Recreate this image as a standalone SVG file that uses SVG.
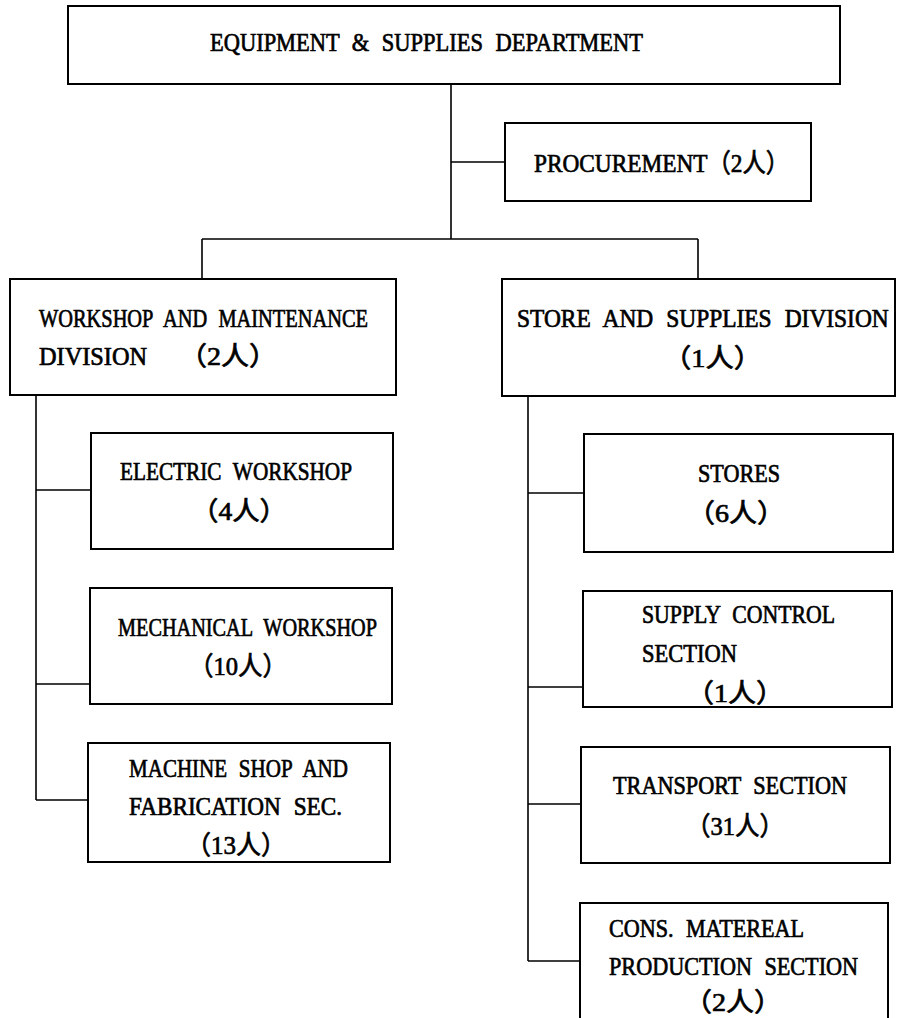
<svg xmlns="http://www.w3.org/2000/svg" width="898" height="1018" viewBox="0 0 898 1018">
<style>
.box{fill:#fff;stroke:#000;stroke-width:2}
.ln{fill:none;stroke:#000;stroke-width:1.6}
text{font-family:"Liberation Serif","Noto Sans CJK SC",serif;font-size:26px;font-weight:normal;fill:#000;stroke:#000;stroke-width:0.7;word-spacing:8px}
</style>
<rect width="898" height="1018" fill="#fff"/>
<g id="connectors">
<path class="ln" d="M451 84V239M451 162H505M202 239H698M202 239V279M698 239V279"/>
<path class="ln" d="M36 395V800M36 490H91M36 684H90M36 800H88"/>
<path class="ln" d="M528 396V961M528 493H584M528 687H583M528 804H581M528 961H580"/>
</g>
<g id="dept">
<rect class="box" x="68" y="6" width="772" height="78"/>
<text x="210" y="51" textLength="433" lengthAdjust="spacingAndGlyphs">EQUIPMENT &amp; SUPPLIES DEPARTMENT</text>
</g>
<g id="procurement">
<rect class="box" x="505" y="123" width="306" height="78"/>
<text x="534" y="172" textLength="255" lengthAdjust="spacingAndGlyphs">PROCUREMENT（2人）</text>
</g>
<g id="workshop-division">
<rect class="box" x="10" y="279" width="386" height="116"/>
<text x="39" y="327" textLength="329" lengthAdjust="spacingAndGlyphs">WORKSHOP AND MAINTENANCE</text>
<text x="39" y="365" textLength="108" lengthAdjust="spacingAndGlyphs">DIVISION</text>
<text x="179" y="365" textLength="98" lengthAdjust="spacingAndGlyphs">（2人）</text>
</g>
<g id="electric">
<rect class="box" x="91" y="433" width="302" height="116"/>
<text x="120" y="480" textLength="232" lengthAdjust="spacingAndGlyphs">ELECTRIC WORKSHOP</text>
<text x="191" y="520" textLength="96" lengthAdjust="spacingAndGlyphs">（4人）</text>
</g>
<g id="mechanical">
<rect class="box" x="90" y="588" width="302" height="116"/>
<text x="118" y="636" textLength="259" lengthAdjust="spacingAndGlyphs">MECHANICAL WORKSHOP</text>
<text x="189" y="675" textLength="98" lengthAdjust="spacingAndGlyphs">（10人）</text>
</g>
<g id="machine">
<rect class="box" x="88" y="743" width="302" height="119"/>
<text x="129" y="777" textLength="219" lengthAdjust="spacingAndGlyphs">MACHINE SHOP AND</text>
<text x="129" y="815" textLength="213" lengthAdjust="spacingAndGlyphs">FABRICATION SEC.</text>
<text x="186" y="854" textLength="100" lengthAdjust="spacingAndGlyphs">（13人）</text>
</g>
<g id="store-division">
<rect class="box" x="502" y="279" width="393" height="117"/>
<text transform="translate(517 327) scale(0.9 1)" x="0" y="0" textLength="413" lengthAdjust="spacingAndGlyphs">STORE AND SUPPLIES DIVISION</text>
<text x="663" y="367" textLength="99" lengthAdjust="spacingAndGlyphs">（1人）</text>
</g>
<g id="stores">
<rect class="box" x="584" y="434" width="309" height="118"/>
<text x="698" y="482" textLength="82" lengthAdjust="spacingAndGlyphs">STORES</text>
<text x="687" y="522" textLength="98" lengthAdjust="spacingAndGlyphs">（6人）</text>
</g>
<g id="supply-control">
<rect class="box" x="583" y="591" width="309" height="116"/>
<text x="642" y="623" textLength="193" lengthAdjust="spacingAndGlyphs">SUPPLY CONTROL</text>
<text x="642" y="662" textLength="95" lengthAdjust="spacingAndGlyphs">SECTION</text>
<text x="686" y="702" textLength="98" lengthAdjust="spacingAndGlyphs">（1人）</text>
</g>
<g id="transport">
<rect class="box" x="581" y="747" width="309" height="116"/>
<text x="613" y="794" textLength="234" lengthAdjust="spacingAndGlyphs">TRANSPORT SECTION</text>
<text x="686" y="835" textLength="98" lengthAdjust="spacingAndGlyphs">（31人）</text>
</g>
<g id="cons-material">
<rect class="box" x="580" y="903" width="308" height="140"/>
<text x="609" y="937" textLength="195" lengthAdjust="spacingAndGlyphs">CONS. MATEREAL</text>
<text transform="translate(609 975) scale(0.853 1)" x="0" y="0" textLength="292" lengthAdjust="spacingAndGlyphs">PRODUCTION SECTION</text>
<text x="684" y="1011" textLength="98" lengthAdjust="spacingAndGlyphs">（2人）</text>
</g>
</svg>
